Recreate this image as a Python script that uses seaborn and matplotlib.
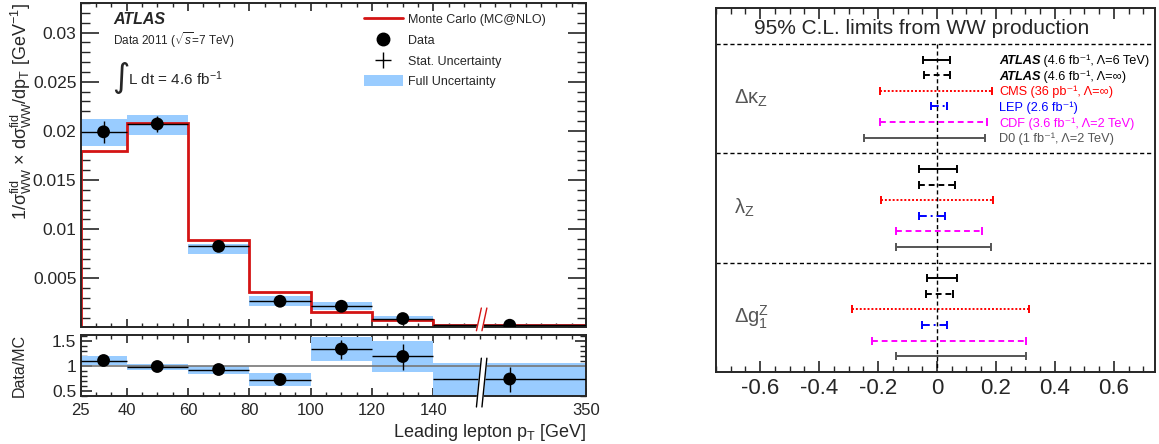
# ATLAS WW: leading lepton pT unfolded distribution + aTGC limits comparison
import matplotlib
matplotlib.use("Agg")
import matplotlib.pyplot as plt
import matplotlib.transforms as mtransforms
from matplotlib.lines import Line2D
from matplotlib.patches import Patch
from matplotlib.ticker import FixedLocator, MultipleLocator, FuncFormatter
import seaborn as sns
import pandas as pd
import numpy as np

# ---- left panel: normalised fiducial cross section vs leading lepton pT
bin_edges = [25, 40, 60, 80, 100, 120, 140, 350]
mc_xsec = [0.0180, 0.0208, 0.00885, 0.00365, 0.00158, 0.00081, 0.00030]
data_xsec = [0.0199, 0.0207, 0.00825, 0.00267, 0.00216, 0.00091, 0.00023]
data_stat = [0.0011, 0.0008, 0.0003, 0.0002, 0.00015, 0.0001, 0.00005]
full_low = [0.0185, 0.0196, 0.00750, 0.00223, 0.00175, 0.00074, 0.00010]
full_high = [0.0212, 0.0216, 0.00852, 0.00317, 0.00260, 0.00115, 0.00035]

ratio = [1.11, 0.99, 0.93, 0.73, 1.34, 1.19, 0.74]
ratio_stat_low = [1.05, 0.96, 0.90, 0.69, 1.14, 0.93, 0.49]
ratio_stat_high = [1.17, 1.02, 0.96, 0.77, 1.52, 1.44, 0.98]
ratio_full_low = [1.03, 0.93, 0.84, 0.60, 1.11, 0.88, 0.38]
ratio_full_high = [1.19, 1.05, 1.01, 0.86, 1.58, 1.50, 1.06]

pt_ticks = [25, 40, 60, 80, 100, 120, 140, 350]

# ---- right panel: 95% CL limits
exp_names = ["ATLAS", "ATLAS", "CMS", "LEP", "CDF", "D0"]
exp_details = [" (4.6 fb⁻¹, Λ=6 TeV)", " (4.6 fb⁻¹, Λ=∞)",
               " (36 pb⁻¹, Λ=∞)", " (2.6 fb⁻¹)",
               " (3.6 fb⁻¹, Λ=2 TeV)", " (1 fb⁻¹, Λ=2 TeV)"]
exp_colors = ["black", "black", "#ff0000", "#0000ff", "#ff00ff", "#555555"]
exp_styles = ["-", (0, (3, 2)), (0, (1, 1)), (0, (4, 2, 1, 2)), (0, (3, 2)), "-"]

coupling_names = ["Δκ$_{\\rm Z}$", "λ$_{\\rm Z}$", "Δg$_{1}^{\\rm Z}$"]
dk_low = [-0.046, -0.044, -0.193, -0.021, -0.193, -0.247]
dk_high = [0.044, 0.044, 0.185, 0.033, 0.168, 0.163]
lz_low = [-0.062, -0.062, -0.191, -0.060, -0.140, -0.140]
lz_high = [0.067, 0.060, 0.191, 0.027, 0.153, 0.182]
dg_low = [-0.035, -0.038, -0.288, -0.052, -0.220, -0.140]
dg_high = [0.068, 0.054, 0.312, 0.035, 0.301, 0.301]

band_color = "#99ccff"
mc_color = "#d41414"

sns.set_theme(style="ticks")
plt.rcParams["font.family"] = ["Liberation Sans", "DejaVu Sans"]
plt.rcParams["mathtext.fontset"] = "custom"
plt.rcParams["mathtext.rm"] = "Liberation Sans"
plt.rcParams["mathtext.it"] = "Liberation Sans:italic"
plt.rcParams["mathtext.bf"] = "Liberation Sans:bold"
plt.rcParams["axes.linewidth"] = 1.4
plt.rcParams["xtick.direction"] = "in"
plt.rcParams["ytick.direction"] = "in"

# last bin (140-350) is squeezed on the axis
squeeze_from = 140
squeeze_factor = 49.7 / 210


def to_disp(pt):
    pt = np.asarray(pt, dtype=float)
    return np.where(pt <= squeeze_from, pt, squeeze_from + (pt - squeeze_from) * squeeze_factor)


edges = to_disp(bin_edges)
centers = (edges[:-1] + edges[1:]) / 2
widths = np.diff(edges)
x_break = 155.7

df = pd.DataFrame({"x": centers, "data": data_xsec, "ratio": ratio})

fig = plt.figure(figsize=(11.59, 4.44), dpi=100)
ax = fig.add_axes([0.0695, 0.2624, 0.4361, 0.7308])
axr = fig.add_axes([0.0695, 0.1081, 0.4361, 0.1374])
axl = fig.add_axes([0.6178, 0.1622, 0.3788, 0.8198])

# main panel
ax.bar(centers, np.subtract(full_high, full_low), bottom=full_low, width=widths,
       color=band_color, linewidth=0, zorder=1)
ax.stairs(mc_xsec, edges, color=mc_color, lw=2, zorder=2)
ax.hlines(data_xsec, edges[:-1], edges[1:], color="black", lw=1, zorder=3)
ax.vlines(centers, np.subtract(data_xsec, data_stat), np.add(data_xsec, data_stat),
          color="black", lw=1, zorder=3)
sns.scatterplot(data=df, x="x", y="data", ax=ax, color="black", s=85,
                edgecolor="none", zorder=5, legend=False)

ax.set_xlim(edges[0], edges[-1])
ax.set_ylim(0, 0.033)
ax.yaxis.set_major_locator(MultipleLocator(0.005))
ax.yaxis.set_minor_locator(MultipleLocator(0.001))
ax.yaxis.set_major_formatter(FuncFormatter(lambda v, p: f"{v:g}" if v > 1e-9 else ""))
ax.tick_params(axis="y", which="major", length=13, width=1.2, left=True, right=True, labelsize=12.5, pad=3)
ax.tick_params(axis="y", which="minor", length=6.5, width=1, left=True, right=True)
ax.set_xlabel("")
ax.set_ylabel("1/σ${}^{\\rm fid}_{\\rm WW}$ × dσ${}^{\\rm fid}_{\\rm WW}$/dp$_{\\rm T}$ [GeV$^{-1}$]",
              fontsize=13, loc="top")
ax.yaxis.set_label_coords(-0.092, 1.0)

for a in (ax, axr):
    a.set_xlim(edges[0], edges[-1])
    a.xaxis.set_major_locator(FixedLocator(to_disp(pt_ticks)))
    a.xaxis.set_minor_locator(MultipleLocator(5))
    a.tick_params(axis="x", which="major", length=6, width=1.2, top=True, bottom=True)
    a.tick_params(axis="x", which="minor", length=3, width=1, top=True, bottom=True)
ax.tick_params(axis="x", labelbottom=False)
axr.set_xticklabels([str(v) for v in pt_ticks])
axr.tick_params(axis="x", labelsize=12, pad=5)

# ATLAS labels
ax.text(0.064, 0.948, "ATLAS", transform=ax.transAxes, fontsize=11.5, fontweight="bold",
        fontstyle="italic", va="center")
ax.text(0.064, 0.886, "Data 2011 ($\\sqrt{s}$=7 TeV)", transform=ax.transAxes, fontsize=8.5, va="center")
ax.text(0.062, 0.77, "∫", transform=ax.transAxes, fontsize=24, family="DejaVu Sans", va="center")
ax.text(0.094, 0.766, "L dt = 4.6 fb$^{-1}$", transform=ax.transAxes, fontsize=11, va="center")

handles = [Line2D([], [], color=mc_color, lw=2),
           Line2D([], [], color="black", marker="o", ls="none", ms=9),
           Line2D([], [], color="black", marker="+", ls="none", ms=11, mew=1),
           Patch(facecolor=band_color, edgecolor="none")]
labels = ["Monte Carlo (MC@NLO)", "Data", "Stat. Uncertainty", "Full Uncertainty"]
ax.legend(handles, labels, loc="upper left", bbox_to_anchor=(0.561, 0.968), frameon=False,
          fontsize=9, handlelength=3.1, handleheight=1.0, handletextpad=0.45,
          labelspacing=0.62, borderpad=0, borderaxespad=0)

# ratio panel
axr.bar(centers, np.subtract(ratio_full_high, ratio_full_low), bottom=ratio_full_low, width=widths,
        color=band_color, linewidth=0, zorder=1)
axr.axhline(1, color="#777777", lw=1.2, zorder=2)
axr.hlines(ratio, edges[:-1], edges[1:], color="black", lw=1, zorder=3)
axr.vlines(centers, ratio_stat_low, ratio_stat_high, color="black", lw=1, zorder=3)
sns.scatterplot(data=df, x="x", y="ratio", ax=axr, color="black", s=85,
                edgecolor="none", zorder=5, legend=False)
axr.set_ylim(0.4, 1.62)
axr.yaxis.set_major_locator(FixedLocator([0.5, 1, 1.5]))
axr.yaxis.set_minor_locator(MultipleLocator(0.1))
axr.yaxis.set_major_formatter(FuncFormatter(lambda v, p: f"{v:g}"))
axr.tick_params(axis="y", which="major", length=8, width=1.2, left=True, right=True, labelsize=12.5, pad=3)
axr.tick_params(axis="y", which="minor", length=4, width=1, left=True, right=True)
axr.set_ylabel("Data/MC", fontsize=11.5)
axr.yaxis.set_label_coords(-0.106, 0.5)
axr.set_xlabel("Leading lepton p$_{\\rm T}$ [GeV]", fontsize=13, loc="right", labelpad=3)


# broken-axis marks in the last bin
def draw_break(a, y0, y1, color):
    tr = mtransforms.blended_transform_factory(a.transData, a.transAxes)
    s = 0.8
    a.fill([x_break - 0.9 - s, x_break + 0.9 - s, x_break + 0.9 + s, x_break - 0.9 + s],
           [y0, y0, y1, y1], transform=tr, color="white", zorder=7, clip_on=False)
    for dx in (-0.9, 0.9):
        a.plot([x_break + dx - s, x_break + dx + s], [y0, y1], transform=tr, color=color,
               lw=1, zorder=8, clip_on=False)


draw_break(ax, -0.01, 0.06, mc_color)
draw_break(axr, -0.18, 0.62, "black")

# ---- right panel: limits
axl.set_xlim(-0.75, 0.74)
axl.set_ylim(21, -2.3)

sections = [(dk_low, dk_high), (lz_low, lz_high), (dg_low, dg_high)]
for k, (lo, hi) in enumerate(sections):
    for j in range(len(exp_names)):
        y = 7 * k + 1 + j
        axl.hlines(y, lo[j], hi[j], color=exp_colors[j], linestyle=exp_styles[j], lw=1.4)
        axl.plot([lo[j], hi[j]], [y, y], ls="none", marker="|", ms=6, mew=1.4, color=exp_colors[j])
    axl.text(-0.69, 7 * k + 3.5, coupling_names[k], fontsize=14.5, color="#555555", va="center")

renderer = fig.canvas.get_renderer()
for j in range(len(exp_names)):
    y_base = 1 + j + 0.3
    if exp_names[j] == "ATLAS":
        t = axl.text(0.21, y_base, "ATLAS", fontsize=9.2, fontweight="bold", fontstyle="italic",
                     va="baseline", color=exp_colors[j])
    else:
        t = axl.text(0.21, y_base, exp_names[j], fontsize=9.2, va="baseline", color=exp_colors[j])
    w = t.get_window_extent(renderer).width
    axl.text(0.21, y_base, exp_details[j], fontsize=9.2, va="baseline", color=exp_colors[j],
             transform=mtransforms.offset_copy(axl.transData, fig=fig, x=w, y=0, units="dots"))

for y in (0, 7, 14):
    axl.axhline(y, color="black", lw=1, ls=(0, (3, 2)))
axl.vlines(0, 0, 21, color="black", lw=1, ls=(0, (3, 2)))
axl.text(-0.62, -1.0, "95% C.L. limits from WW production", fontsize=15, va="center")

axl.xaxis.set_major_locator(MultipleLocator(0.2))
axl.xaxis.set_minor_locator(MultipleLocator(0.05))
axl.xaxis.set_major_formatter(FuncFormatter(lambda v, p: "0" if abs(v) < 1e-9 else f"{v:.1f}"))
axl.tick_params(axis="x", which="major", length=8, width=1.2, top=True, bottom=True, labelsize=16, pad=4)
axl.tick_params(axis="x", which="minor", length=4, width=1, top=True, bottom=True)
axl.set_yticks([])

fig.savefig("out.png", dpi=100)
